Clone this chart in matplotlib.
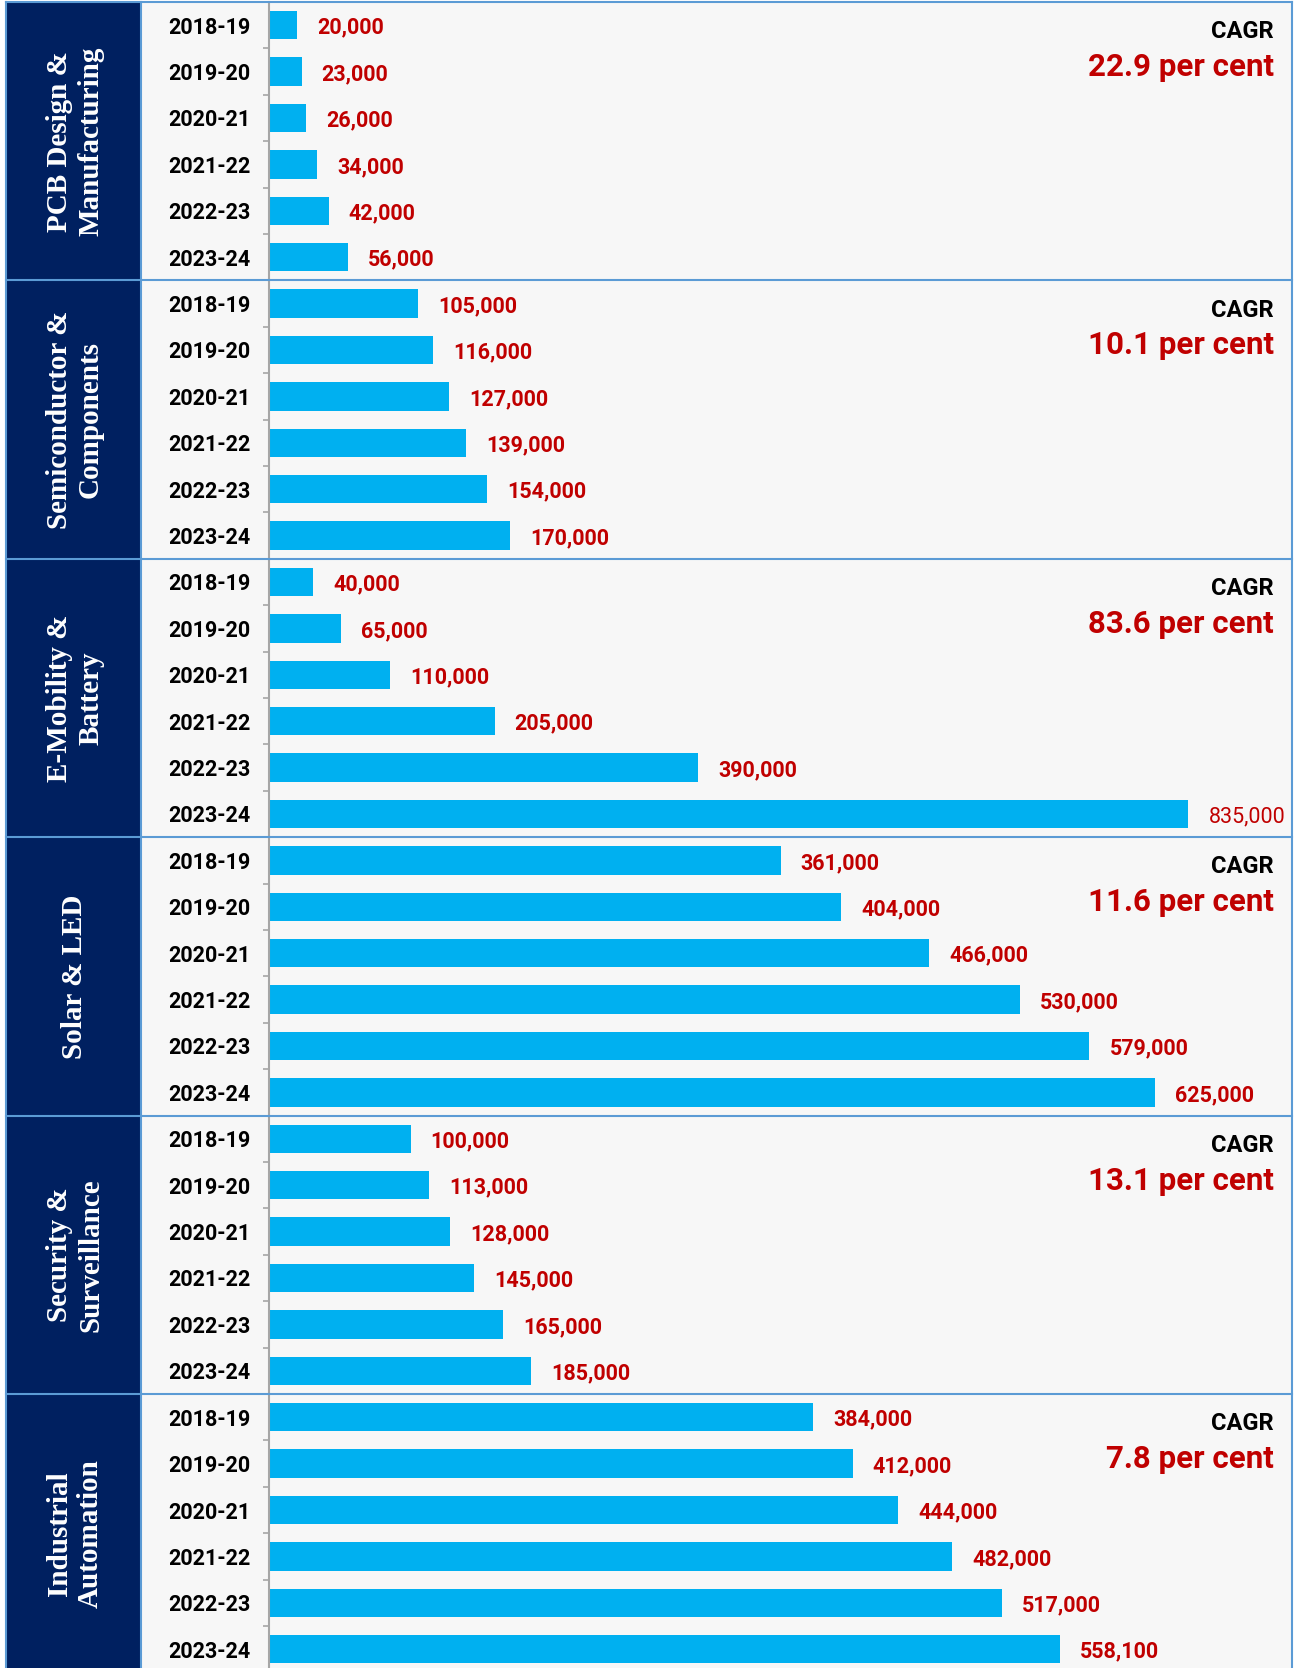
import numpy as np
import matplotlib
matplotlib.use("Agg")
import matplotlib.pyplot as plt
from matplotlib.patches import Rectangle
from matplotlib.lines import Line2D

# data
years = ["2018-19", "2019-20", "2020-21", "2021-22", "2022-23", "2023-24"]
sectors = ["PCB Design &\nManufacturing", "Semiconductor &\nComponents",
           "E-Mobility &\nBattery", "Solar & LED",
           "Security &\nSurveillance", "Industrial\nAutomation"]
pcb = [20000, 23000, 26000, 34000, 42000, 56000]
semi = [105000, 116000, 127000, 139000, 154000, 170000]
emob = [40000, 65000, 110000, 205000, 390000, 835000]
solar = [361000, 404000, 466000, 530000, 579000, 625000]
security = [100000, 113000, 128000, 145000, 165000, 185000]
industrial = [384000, 412000, 444000, 482000, 517000, 558100]
cagr = ["22.9", "10.1", "83.6", "11.6", "13.1", "7.8"]
series = [pcb, semi, emob, solar, security, industrial]

# each excel panel had its own axis max
axis_max = [722000, 722000, 929000, 722000, 722000, 722000]

W, H = 1295, 1668
NAVY = "#002060"
BAR = "#00B0F0"
RED = "#C00000"
EDGE = "#5B9BD5"

fig = plt.figure(figsize=(W / 100, H / 100), dpi=100)
fig.patch.set_facecolor("white")

def fx(px):
    return px / W

def fy(py):
    return 1 - py / H

top0 = 2
ph = 278.4
ax_left, ax_right = 269, 1292

# backgrounds
fig.add_artist(Rectangle((fx(141), 0), fx(ax_right) - fx(141), fy(top0),
                         transform=fig.transFigure, facecolor="#F7F7F7",
                         edgecolor="none", zorder=-10))
fig.add_artist(Rectangle((fx(7), 0), fx(141) - fx(7), fy(top0),
                         transform=fig.transFigure, facecolor=NAVY,
                         edgecolor="none", zorder=-9))

biggest = max(max(s) for s in series)

for i, vals in enumerate(series):
    top = top0 + i * ph
    ax = fig.add_axes([fx(ax_left), fy(top + ph), fx(ax_right) - fx(ax_left), ph / H])
    ax.set_facecolor("none")
    y = np.arange(len(years))
    ax.barh(y, vals, height=0.61, color=BAR)
    ax.set_ylim(5.5, -0.5)
    ax.set_xlim(0, axis_max[i])
    for j, v in enumerate(vals):
        ax.annotate(f"{v:,}", xy=(v, j), xytext=(20, 0), textcoords="offset pixels",
                    va="center_baseline", ha="left", color=RED, fontsize=15.5,
                    family="Roboto",
                    fontweight="normal" if v == biggest else "bold")

    ax.set_yticks(y)
    ax.set_yticklabels(years, family="Roboto", fontweight="bold", fontsize=15.5)
    ax.set_yticks(np.arange(0.5, 5, 1), minor=True)
    ax.tick_params(axis="y", which="major", length=0, pad=13.5)
    ax.tick_params(axis="y", which="minor", length=4.5, color="#A6A6A6", width=1.2)
    ax.set_xticks([])
    for s in ["top", "right", "bottom"]:
        ax.spines[s].set_visible(False)
    ax.spines["left"].set_color("#A6A6A6")
    ax.spines["left"].set_linewidth(1.5)

    ax.text(0.9824, 0.870, "CAGR", transform=ax.transAxes, ha="right", va="baseline",
            family="Roboto", fontweight="bold", fontsize=17, color="black")
    ax.text(0.9824, 0.734, f"{cagr[i]} per cent", transform=ax.transAxes, ha="right",
            va="baseline", family="Roboto", fontweight="bold", fontsize=22.5, color=RED)

    fig.text(fx(75), fy(top + ph / 2), sectors[i], rotation=90, ha="center", va="center",
             multialignment="center", color="white", family="Liberation Serif",
             fontweight="bold", fontsize=21, linespacing=1.2)

    fig.add_artist(Line2D([fx(6), fx(ax_right)], [fy(top), fy(top)],
                          transform=fig.transFigure, color=EDGE, lw=1.5))

for xp in [6, 141, ax_right]:
    fig.add_artist(Line2D([fx(xp), fx(xp)], [0, fy(top0)],
                          transform=fig.transFigure, color=EDGE, lw=1.5))

fig.savefig("out.png", dpi=100)
